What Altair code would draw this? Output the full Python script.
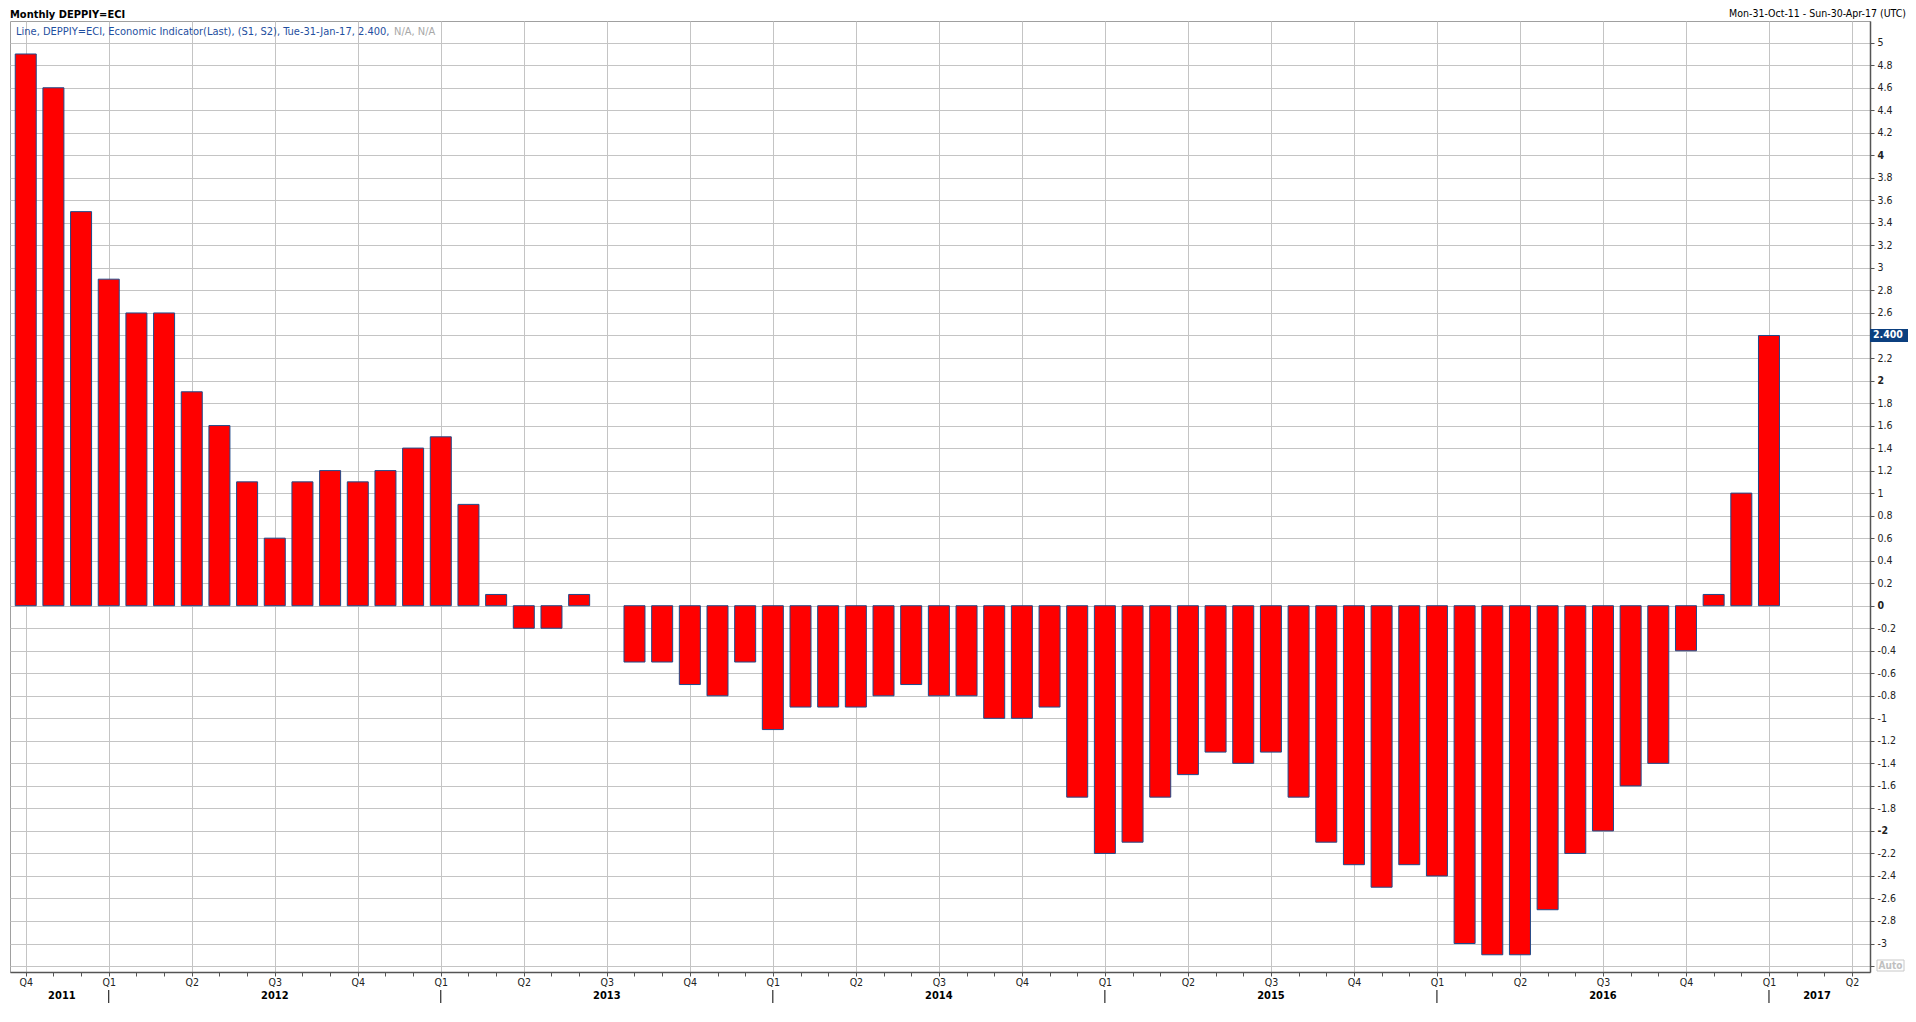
import altair as alt
import pandas as pd

# ---------------- data (monthly, first bar = Oct 2011) ----------------
values = [4.9, 4.6, 3.5, 2.9, 2.6, 2.6, 1.9, 1.6, 1.1, 0.6,
          1.1, 1.2, 1.1, 1.2, 1.4, 1.5, 0.9, 0.1, -0.2, -0.2,
          0.1, 0.0, -0.5, -0.5, -0.7, -0.8, -0.5, -1.1, -0.9, -0.9,
          -0.9, -0.8, -0.7, -0.8, -0.8, -1.0, -1.0, -0.9, -1.7, -2.2,
          -2.1, -1.7, -1.5, -1.3, -1.4, -1.3, -1.7, -2.1, -2.3, -2.5,
          -2.3, -2.4, -3.0, -3.1, -3.1, -2.7, -2.2, -2.0, -1.6, -1.4,
          -0.4, 0.1, 1.0, 2.4]
month_index = list(range(len(values)))          # 0 = Oct 2011
month_ticks = list(range(0, 67))                # Oct 2011 .. Apr 2017
years = [2011, 2012, 2013, 2014, 2015, 2016, 2017]
y_ticks = [round(-3.2 + 0.2 * k, 1) for k in range(42)]

title_left = "Monthly DEPPIY=ECI"
title_right = "Mon-31-Oct-11 - Sun-30-Apr-17 (UTC)"
legend_main = "Line, DEPPIY=ECI, Economic Indicator(Last), (S1, S2), Tue-31-Jan-17, 2.400,"
legend_na = "N/A, N/A"
last_label = f"{values[-1]:.3f}"

# ---------------- layout ----------------
W, H = 1860, 951
XDOM = [-0.388, 66.47]
YDOM = [-3.253, 5.193]
FONT = "DejaVu Sans Condensed"

def jan_index(y):
    return 3 + 12 * (y - 2012)

year_rows = []
for y in years:
    a = max(XDOM[0], jan_index(y))
    b = min(XDOM[1], jan_index(y + 1))
    year_rows.append({"i": (a + b) / 2, "label": str(y)})
year_df = pd.DataFrame(year_rows)
sep_df = pd.DataFrame({"i": [jan_index(y) for y in years if XDOM[0] < jan_index(y) < XDOM[1]]})

df = pd.DataFrame({"i": month_index, "v": values})

xscale = alt.Scale(domain=XDOM, nice=False, zero=False)
yscale = alt.Scale(domain=YDOM, nice=False, zero=False)

xaxis = alt.Axis(
    values=month_ticks, orient="bottom", title=None,
    grid=True, gridColor="#c4c4c4", gridWidth=1,
    gridOpacity={"condition": {"test": "datum.value % 3 == 0", "value": 1}, "value": 0},
    labelExpr="datum.value % 3 == 0 ? 'Q' + (floor(((datum.value + 9) % 12) / 3) + 1) : ''",
    tickSize=4, tickColor="#555", domainColor="#555", domainWidth=1.5,
    labelFont=FONT, labelFontSize=10.5, labelColor="#222", labelPadding=1,
    labelOverlap=False, labelFlush=False,
)
yaxis = alt.Axis(
    values=y_ticks, orient="right", title=None,
    grid=True, gridColor="#c4c4c4", gridWidth=1,
    labelExpr="(datum.value == 2.4 || datum.value == -3.2) ? '' : toString(datum.value)",
    labelFontWeight={"condition": {"test": "datum.value == 4 || datum.value == 2 || datum.value == 0 || datum.value == -2",
                                   "value": "bold"}, "value": "normal"},
    tickSize=4, tickColor="#555", domainColor="#555", domainWidth=1.5,
    labelFont=FONT, labelFontSize=10.5, labelColor="#222", labelPadding=3,
    labelOverlap=False, labelFlush=False,
)

def X(field):
    return alt.X(f"{field}:Q", scale=xscale, axis=xaxis)

def Y(field):
    return alt.Y(f"{field}:Q", scale=yscale, axis=yaxis)

bars = alt.Chart(df).transform_filter("datum.v != 0").mark_bar(
    size=21, color="#ff0000", stroke="#1f4a8a", strokeWidth=1
).encode(x=X("i"), y=Y("v"), y2=alt.datum(0))

year_text = alt.Chart(year_df).mark_text(
    font=FONT, fontSize=11, fontWeight="bold", color="#000", baseline="middle"
).encode(x=X("i"), y=alt.value(H + 24), text="label:N")

year_sep = alt.Chart(sep_df).mark_rule(color="#000", strokeWidth=1).encode(
    x=X("i"), y=alt.value(H + 18), y2=alt.value(H + 31)
)

one = pd.DataFrame({"k": [0]})

box_df = pd.DataFrame({"lo": [values[-1] - 0.058], "hi": [values[-1] + 0.058], "v": [values[-1]], "t": [last_label]})
last_box = alt.Chart(box_df).mark_rect(color="#0b3f7f").encode(
    x=alt.value(W), x2=alt.value(W + 44), y=Y("lo"), y2="hi:Q"
)
last_text = alt.Chart(box_df).mark_text(
    font=FONT, fontSize=10.5, fontWeight="bold", color="#ffffff", align="left", baseline="middle"
).encode(x=alt.value(W + 3), y=Y("v"), text="t:N")

auto_box = alt.Chart(one).mark_rect(fill="#ffffff", stroke="#c8c8c8", strokeWidth=1).encode(
    x=alt.value(W + 7), x2=alt.value(W + 34), y=alt.value(H - 12), y2=alt.value(H - 1)
)
auto_text = alt.Chart(one).mark_text(
    font=FONT, fontSize=10, fontWeight="bold", color="#c0c0c0", align="center", baseline="middle"
).encode(x=alt.value(W + 20.5), y=alt.value(H - 6.5), text=alt.value("Auto"))

t_left = alt.Chart(one).mark_text(
    font=FONT, fontSize=11, fontWeight="bold", color="#000", align="left", baseline="top"
).encode(x=alt.value(0), y=alt.value(-12.5), text=alt.value(title_left))
t_right = alt.Chart(one).mark_text(
    font=FONT, fontSize=10.5, color="#000", align="right", baseline="top"
).encode(x=alt.value(W + 36), y=alt.value(-12.5), text=alt.value(title_right))
leg_main = alt.Chart(one).mark_text(
    font=FONT, fontSize=11, color="#1f4fa0", align="left", baseline="middle"
).encode(x=alt.value(6), y=alt.value(11), text=alt.value(legend_main))
leg_na = alt.Chart(one).mark_text(
    font=FONT, fontSize=11, color="#a8a8a8", align="left", baseline="middle"
).encode(x=alt.value(384), y=alt.value(11), text=alt.value(legend_na))

chart = alt.layer(
    bars, year_sep, year_text, last_box, last_text, auto_box, auto_text,
    t_left, t_right, leg_main, leg_na
).properties(
    width=W, height=H,
    autosize=alt.AutoSizeParams(type="none"),
    padding={"left": 2, "top": 13, "right": 38, "bottom": 40},
    background="#ffffff",
).configure_view(stroke="#a0a0a0", strokeWidth=1)

chart.save("out.html", embed_options={"renderer": "svg", "actions": False})
